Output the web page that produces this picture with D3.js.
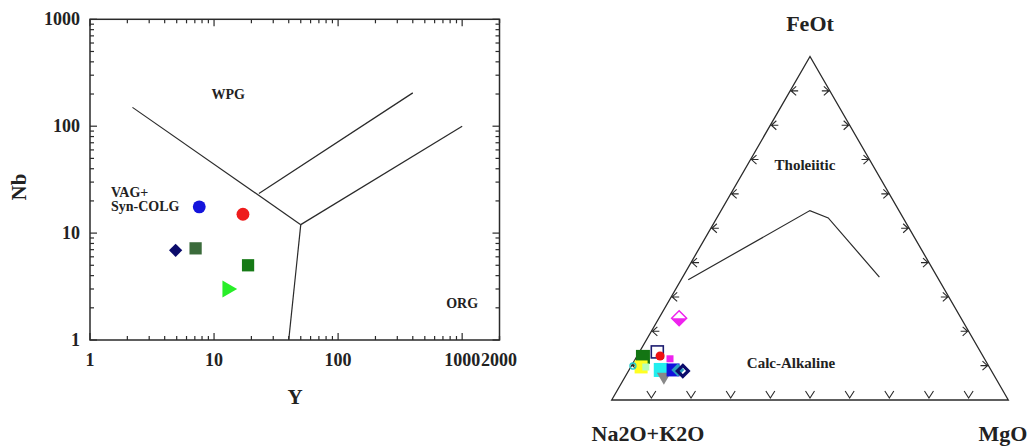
<!DOCTYPE html>
<html>
<head>
<meta charset="utf-8">
<script src="https://cdn.jsdelivr.net/npm/d3@7/dist/d3.min.js"></script>
<style>
  html, body { margin: 0; padding: 0; background: #fff; }
  svg { display: block; }
  text { font-family: "Liberation Serif", "DejaVu Serif", serif; font-weight: bold; fill: #222; }
</style>
</head>
<body>
<svg id="chart" width="1031" height="448"></svg>
<script>
// ---------- Left diagram: Nb vs Y (Pearce et al.) ----------
const xTickLabels = ["1", "10", "100", "1000", "2000"];
const xTickValues = [1, 10, 100, 1000, 2000];
const yTickLabels = ["1", "10", "100", "1000"];
const yTickValues = [1, 10, 100, 1000];

const sampleY  = [7.6, 17.1, 4.9, 7.1, 18.8, 12.8];
const sampleNb = [17.6, 15.0, 6.9, 7.2, 5.0, 3.0];
const sampleSymbol = ["circle", "circle", "diamond", "square", "square", "triangle"];
const sampleColor  = ["#1414dc", "#ee1c1c", "#0b0b6b", "#3b6b3b", "#167a16", "#28ee28"];

// Boundary lines [Y, Nb]
const boundWPG_VAG = [[2.2, 150], [50, 12]];
const boundVAG_ORG = [[50, 12], [40, 1]];
const boundWPG_ORG = [[50, 12], [1000, 100]];
const boundWPG_COLG = [[23, 23.5], [400, 205]];

const regionLabels = ["WPG", "ORG"];
const regionAt = [[13, 200], [1000, 2.2]];

// ---------- Right diagram: AFM ternary ----------
const apexLabels = ["FeOt", "Na2O+K2O", "MgO"];
// fractions [A (Na2O+K2O), F (FeOt), M (MgO)]
const afmBoundary = [[0.632, 0.350, 0.018], [0.2245, 0.5515, 0.224], [0.189, 0.530, 0.281], [0.146, 0.358, 0.496]];
const ternTicks = [0.1, 0.2, 0.3, 0.4, 0.5, 0.6, 0.7, 0.8, 0.9];

const ternF = [0.238, 0.1255, 0.140, 0.128, 0.0963, 0.099, 0.096, 0.120, 0.0875, 0.067, 0.0875, 0.0875, 0.0846];
const ternM = [0.051, 0.016, 0.045, 0.058, 0.026, 0.004, 0.038, 0.087, 0.080, 0.098, 0.111, 0.123, 0.137];
const ternSymbol = ["halfdiamond", "square", "opensquare", "circle", "square", "opencircle", "square", "square", "square", "triangledown", "square", "diamond", "opendiamond"];
const ternColor  = ["#ee22ee", "#137513", "#1c1c70", "#ee1111", "#ffff22", "#22cccc", "#b8ffb8", "#ee22ee", "#22eeee", "#888888", "#1111dd", "#2a9fc0", "#0b0b6b"];
const ternSize   = [15, 14, 12, 9, 13, 6, 7, 7, 14, 14, 13, 13, 15];

const svg = d3.select("#chart");
const INK = "#2a2a2a";

// ===== Left plot =====
const L = { left: 90, right: 499.5, top: 19.3, bottom: 340 };
const x = d3.scaleLog().domain([1, 2000]).range([L.left, L.right]);
const y = d3.scaleLog().domain([1, 1000]).range([L.bottom, L.top]);

const gL = svg.append("g");

function minorTicks(dom) {
  const out = [];
  for (let d = 1; d < dom[1]; d *= 10) {
    for (let k = 1; k < 10; k++) { const v = d * k; if (v >= dom[0] && v <= dom[1]) out.push(v); }
  }
  out.push(dom[1]);
  return out;
}
const xt = minorTicks([1, 2000]);
const yt = minorTicks([1, 1000]);
const isMajor = v => Math.abs(Math.log10(v) - Math.round(Math.log10(v))) < 1e-9;

const tickG = gL.append("g").attr("stroke", INK).attr("stroke-width", 1.2);
xt.forEach(v => {
  const len = isMajor(v) ? 7 : 4;
  tickG.append("line").attr("x1", x(v)).attr("x2", x(v)).attr("y1", L.bottom).attr("y2", L.bottom - len);
  tickG.append("line").attr("x1", x(v)).attr("x2", x(v)).attr("y1", L.top).attr("y2", L.top + len);
});
yt.forEach(v => {
  const len = isMajor(v) ? 7 : 4;
  tickG.append("line").attr("y1", y(v)).attr("y2", y(v)).attr("x1", L.left).attr("x2", L.left + len);
  tickG.append("line").attr("y1", y(v)).attr("y2", y(v)).attr("x1", L.right).attr("x2", L.right - len);
});

gL.append("rect").attr("x", L.left).attr("y", L.top)
  .attr("width", L.right - L.left).attr("height", L.bottom - L.top)
  .attr("fill", "none").attr("stroke", INK).attr("stroke-width", 1.5);

xTickValues.forEach((v, i) => {
  let xx = x(v);
  if (v === 2000) xx -= 0.5;
  gL.append("text").attr("x", xx).attr("y", 366).attr("text-anchor", "middle")
    .attr("font-size", 18).text(xTickLabels[i]);
});
yTickValues.forEach((v, i) => {
  gL.append("text").attr("x", 80).attr("y", y(v) + 6).attr("text-anchor", "end")
    .attr("font-size", 18).text(yTickLabels[i]);
});

gL.append("text").attr("transform", "translate(26,187) rotate(-90)").attr("text-anchor", "middle")
  .attr("font-size", 21).text("Nb");
gL.append("text").attr("x", 295).attr("y", 404).attr("text-anchor", "middle")
  .attr("font-size", 21).text("Y");

const line = d3.line().x(d => x(d[0])).y(d => y(d[1]));
[boundWPG_VAG, boundVAG_ORG, boundWPG_ORG, boundWPG_COLG].forEach(b => {
  gL.append("path").attr("d", line(b)).attr("fill", "none").attr("stroke", INK).attr("stroke-width", 1.2);
});

gL.append("text").attr("x", x(regionAt[0][0])).attr("y", y(regionAt[0][1]) + 5).attr("text-anchor", "middle")
  .attr("font-size", 14).text(regionLabels[0]);
gL.append("text").attr("x", x(regionAt[1][0])).attr("y", y(regionAt[1][1]) + 5).attr("text-anchor", "middle")
  .attr("font-size", 14).text(regionLabels[1]);
gL.append("text").attr("x", 111).attr("y", 197).attr("font-size", 14).text("VAG+");
gL.append("text").attr("x", 111).attr("y", 211).attr("font-size", 14).text("Syn-COLG");

const symMap = { circle: d3.symbolCircle, square: d3.symbolSquare, triangle: d3.symbolTriangle };
const sizeMap = { circle: 130, square: 150, triangle: 125 };
sampleY.forEach((v, i) => {
  const s = sampleSymbol[i];
  let tr = `translate(${x(v)},${y(sampleNb[i])})`;
  let d;
  if (s === "diamond") {
    d = d3.symbol().type(d3.symbolSquare).size(88)();
    tr += " rotate(45)";
  } else {
    d = d3.symbol().type(symMap[s]).size(sizeMap[s])();
    if (s === "triangle") tr += " rotate(90)";
  }
  gL.append("path").attr("d", d).attr("fill", sampleColor[i]).attr("transform", tr);
});

// ===== Right plot: ternary =====
const T = { blx: 611.7, brx: 1008.3, by: 400 };
const side = T.brx - T.blx;
const h = side * Math.sqrt(3) / 2;
const tx = d3.scaleLinear().domain([0, 1]).range([0, side]);
const ty = d3.scaleLinear().domain([0, 1]).range([T.by, T.by - h]);
function proj(F, M) { return [T.blx + tx(M) + tx(F) / 2, ty(F)]; }

const gR = svg.append("g");
const apex = proj(1, 0), bl = proj(0, 0), br = proj(0, 1);
gR.append("path").attr("d", `M${bl[0]},${bl[1]}L${apex[0]},${apex[1]}L${br[0]},${br[1]}Z`)
  .attr("fill", "none").attr("stroke", INK).attr("stroke-width", 1.3);

const tg = gR.append("g").attr("stroke", INK).attr("stroke-width", 1.1).attr("fill", "none");
ternTicks.forEach(t => {
  let p = proj(t, 0);
  tg.append("path").attr("d", `M${p[0]},${p[1]}h8M${p[0] + 6},${p[1] - 4.5}L${p[0] + 1},${p[1]}L${p[0] + 6},${p[1] + 4.5}`);
  p = proj(t, 1 - t);
  tg.append("path").attr("d", `M${p[0]},${p[1]}h-8M${p[0] - 6},${p[1] - 4.5}L${p[0] - 1},${p[1]}L${p[0] - 6},${p[1] + 4.5}`);
  p = proj(0, t);
  tg.append("path").attr("d", `M${p[0] - 4.5},${p[1] - 9}L${p[0]},${p[1] - 2}L${p[0] + 4.5},${p[1] - 9}`);
});

const tline = d3.line().x(d => proj(d[1], d[2])[0]).y(d => proj(d[1], d[2])[1]);
gR.append("path").attr("d", tline(afmBoundary)).attr("fill", "none").attr("stroke", INK).attr("stroke-width", 1.2);

gR.append("text").attr("x", apex[0]).attr("y", 31).attr("text-anchor", "middle").attr("font-size", 22).text(apexLabels[0]);
gR.append("text").attr("x", 648).attr("y", 441).attr("text-anchor", "middle").attr("font-size", 22).text(apexLabels[1]);
gR.append("text").attr("x", 1003).attr("y", 441).attr("text-anchor", "middle").attr("font-size", 22).text(apexLabels[2]);
gR.append("text").attr("x", 805).attr("y", 170).attr("text-anchor", "middle").attr("font-size", 15).text("Tholeiitic");
gR.append("text").attr("x", 791).attr("y", 368).attr("text-anchor", "middle").attr("font-size", 15).text("Calc-Alkaline");

ternF.forEach((F, i) => {
  const [px, py] = proj(F, ternM[i]);
  const s = ternSymbol[i], c = ternColor[i], sz = ternSize[i];
  const g = gR.append("g").attr("transform", `translate(${px},${py})`);
  const r = sz / 2;
  if (s === "square") {
    g.append("rect").attr("x", -r).attr("y", -r).attr("width", sz).attr("height", sz).attr("fill", c);
  } else if (s === "opensquare") {
    g.append("rect").attr("x", -r).attr("y", -r).attr("width", sz).attr("height", sz).attr("fill", "#fff").attr("fill-opacity", 0.6).attr("stroke", c).attr("stroke-width", 1.6);
  } else if (s === "circle") {
    g.append("circle").attr("r", r).attr("fill", c);
  } else if (s === "opencircle") {
    g.append("circle").attr("r", r).attr("fill", "none").attr("stroke", c).attr("stroke-width", 1.3);
  } else if (s === "diamond") {
    g.append("path").attr("d", `M0,${-r}L${r},0L0,${r}L${-r},0Z`).attr("fill", c);
  } else if (s === "opendiamond") {
    g.append("path").attr("d", `M0,${-r + 2}L${r - 2},0L0,${r - 2}L${-r + 2},0Z`).attr("fill", "none").attr("stroke", c).attr("stroke-width", 3.2);
  } else if (s === "halfdiamond") {
    g.append("path").attr("d", `M${-r},0L${r},0L0,${r}Z`).attr("fill", c);
    g.append("path").attr("d", `M0,${-r}L${r},0L0,${r}L${-r},0Z`).attr("fill", "none").attr("stroke", c).attr("stroke-width", 1.5);
  } else if (s === "triangledown") {
    g.append("path").attr("d", `M${-r},${-r * 0.6}L${r},${-r * 0.6}L0,${r * 1.1}Z`).attr("fill", c);
  }
});
</script>
</body>
</html>
